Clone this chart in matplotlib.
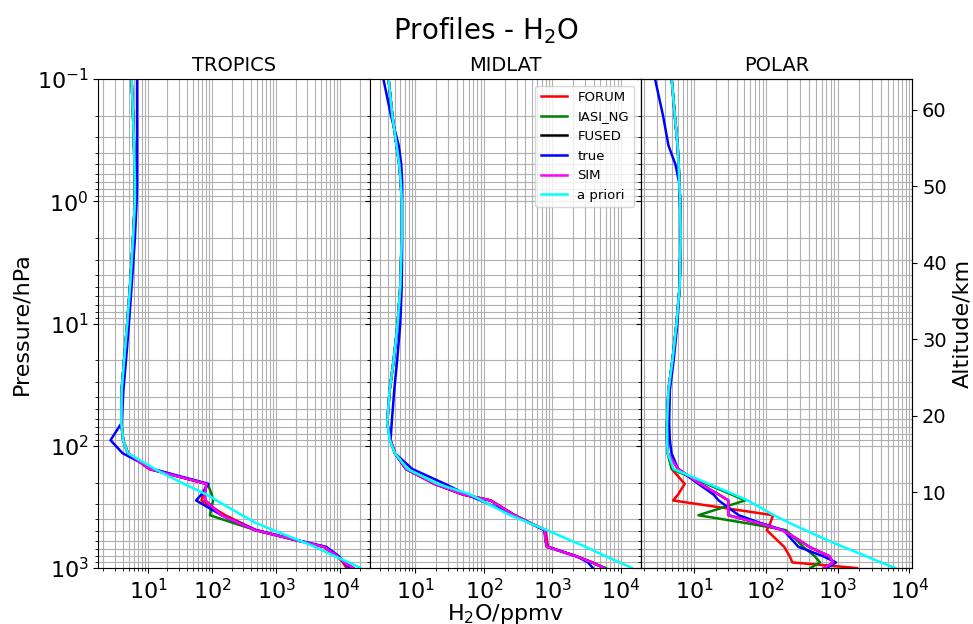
import matplotlib.pyplot as plt

# pressure levels (hPa) shared by all profiles
p_lev = [0.1, 0.2, 0.35, 0.5, 0.7, 1, 2, 5, 10, 20, 35, 65, 90, 115,
         155, 205, 250, 280, 370, 430, 490, 590, 670, 800, 900, 1000]

# H2O (ppmv) - tropics
trop_apriori = [5.5, 5.8, 6.0, 6.1, 6.2, 6.2, 5.8, 5.2, 4.7, 4.2, 3.85, 3.8, 4.07, 4.8,
                12.7, 36, 81, 117, 292, 492, 895, 2200, 4000, 8200, 13600, 20800]
trop_true = [6.7, 6.7, 6.7, 6.7, 6.7, 6.6, 6.2, 5.5, 5.0, 4.5, 4.1, 3.85, 2.58, 3.97,
             12, 87, 68, 56, 140, 272, 490, 2080, 6000, 9500, 11500, 14000]
trop_sim = [5.5, 5.8, 6.0, 6.1, 6.2, 6.2, 5.8, 5.2, 4.7, 4.2, 3.85, 3.8, 4.07, 4.8,
            10.5, 82, 76, 78, 140, 260, 470, 2000, 5500, 9000, 11500, 16000]
trop_fused = [5.5, 5.8, 6.0, 6.1, 6.2, 6.2, 5.8, 5.2, 4.7, 4.2, 3.85, 3.8, 4.07, 4.8,
              10.5, 82, 76, 78, 140, 260, 470, 2000, 5500, 9000, 11500, 16000]
trop_forum = [5.5, 5.8, 6.0, 6.1, 6.2, 6.2, 5.8, 5.2, 4.7, 4.2, 3.85, 3.8, 4.07, 4.8,
              10.5, 82, 72, 68, 160, 290, 480, 2000, 5500, 9000, 11000, 12500]
trop_iasi = [5.5, 5.8, 6.0, 6.1, 6.2, 6.2, 5.8, 5.2, 4.7, 4.2, 3.85, 3.8, 4.07, 4.8,
             10.5, 85, 98, 103, 92, 219, 480, 2000, 5500, 9000, 11500, 15500]

# H2O (ppmv) - mid latitudes
mid_apriori = [4.05, 4.6, 5.3, 5.8, 6.1, 6.3, 6.3, 6.0, 5.5, 4.8, 4.2, 3.87, 4.2, 5.0,
               7.7, 21, 63, 92, 242, 467, 835, 1780, 3050, 5960, 9600, 14500]
mid_true = [3.4, 4.4, 5.7, 6.2, 6.4, 6.4, 6.4, 6.3, 6.0, 5.4, 4.9, 4.5, 4.33, 5.0,
            9.0, 27, 55, 89, 278, 474, 760, 790, 850, 2250, 3300, 3900]
mid_sim = [4.05, 4.6, 5.3, 5.8, 6.1, 6.3, 6.3, 6.0, 5.5, 4.8, 4.2, 3.87, 4.3, 5.0,
           7.3, 19, 49, 125, 280, 480, 780, 790, 830, 2200, 3800, 5700]
mid_fused = [4.05, 4.6, 5.3, 5.8, 6.1, 6.3, 6.3, 6.0, 5.5, 4.8, 4.2, 3.87, 4.3, 5.0,
             7.3, 19, 49, 125, 280, 480, 780, 790, 830, 2200, 3800, 5700]
mid_forum = [4.05, 4.6, 5.3, 5.8, 6.1, 6.3, 6.3, 6.0, 5.5, 4.8, 4.2, 3.87, 4.3, 5.0,
             7.3, 19, 49, 125, 280, 480, 800, 830, 860, 2200, 3800, 5600]
mid_iasi = [4.05, 4.6, 5.3, 5.8, 6.1, 6.3, 6.3, 6.0, 5.5, 4.8, 4.2, 3.87, 4.3, 5.0,
            7.3, 19, 49, 125, 280, 480, 780, 790, 830, 2200, 3800, 6000]

# H2O (ppmv) - polar
pol_apriori = [4.88, 5.4, 5.9, 6.1, 6.24, 6.4, 6.5, 6.3, 5.7, 5.0, 4.4, 4.2, 4.2, 4.3,
               5.2, 16, 36, 56, 130, 218, 355, 710, 1190, 2500, 4000, 6360]
pol_true = [2.86, 3.7, 4.4, 5.5, 6.2, 6.4, 6.5, 6.3, 5.85, 5.2, 4.6, 4.5, 4.6, 4.85,
            6.0, 11.5, 18.6, 22, 42, 86, 176, 234, 284, 627, 950, 700]
pol_sim = [4.88, 5.4, 5.9, 6.1, 6.24, 6.4, 6.5, 6.3, 5.7, 5.0, 4.4, 4.2, 4.2, 4.3,
           6.0, 12.3, 22, 30, 30, 80, 170, 290, 400, 770, 870, 650]
pol_fused = [4.88, 5.4, 5.9, 6.1, 6.24, 6.4, 6.5, 6.3, 5.7, 5.0, 4.4, 4.2, 4.2, 4.3,
             6.0, 12.3, 22, 30, 30, 80, 170, 290, 400, 770, 870, 650]
pol_forum = [4.88, 5.4, 5.9, 6.1, 6.24, 6.4, 6.5, 6.3, 5.7, 5.0, 4.4, 4.2, 4.2, 4.3,
             4.9, 7.4, 6.0, 5.1, 127, 115, 103, 143, 180, 215, 235, 1860]
pol_iasi = [4.88, 5.4, 5.9, 6.1, 6.24, 6.4, 6.5, 6.3, 5.7, 5.0, 4.4, 4.2, 4.2, 4.3,
            4.9, 14.8, 33, 51.5, 11.5, 54.5, 190, 270, 330, 480, 570, 420]

regions = ['TROPICS', 'MIDLAT', 'POLAR']
labels = ['FORUM', 'IASI_NG', 'FUSED', 'true', 'SIM', 'a priori']
colors = ['red', 'green', 'black', 'blue', 'magenta', 'cyan']
x_ranges = [(1.66, 2.87e4), (2.14, 1.96e4), (1.82, 1.1e4)]

profiles = [
    [trop_forum, trop_iasi, trop_fused, trop_true, trop_sim, trop_apriori],
    [mid_forum, mid_iasi, mid_fused, mid_true, mid_sim, mid_apriori],
    [pol_forum, pol_iasi, pol_fused, pol_true, pol_sim, pol_apriori],
]

fig, axes = plt.subplots(1, 3, sharey=True, figsize=(9.73, 6.24), dpi=100)
fig.subplots_adjust(left=0.101, right=0.9376, bottom=0.0897, top=0.8734, wspace=0)

for ax, name, series, xr in zip(axes, regions, profiles, x_ranges):
    for vals, lab, col in zip(series, labels, colors):
        ax.plot(vals, p_lev, color=col, label=lab, linewidth=1.8)
    ax.set_xscale('log')
    ax.set_yscale('log')
    ax.set_xlim(xr)
    ax.set_title(name, fontsize=14)
    ax.grid(True, which='both')
    ax.tick_params(labelsize=16)

axes[0].set_ylim(1000, 0.1)
axes[0].set_ylabel('Pressure/hPa', fontsize=16)
axes[1].set_xlabel('H$_2$O/ppmv', fontsize=16, labelpad=-1)
axes[1].legend(loc='upper right', fontsize=9.5)

alt = axes[2].twinx()
alt.set_ylim(0.1, 64)
alt.set_ylabel('Altitude/km', fontsize=16)
alt.tick_params(labelsize=14)

fig.suptitle('Profiles - H$_2$O', fontsize=20, y=0.975)

plt.savefig('out.png')
